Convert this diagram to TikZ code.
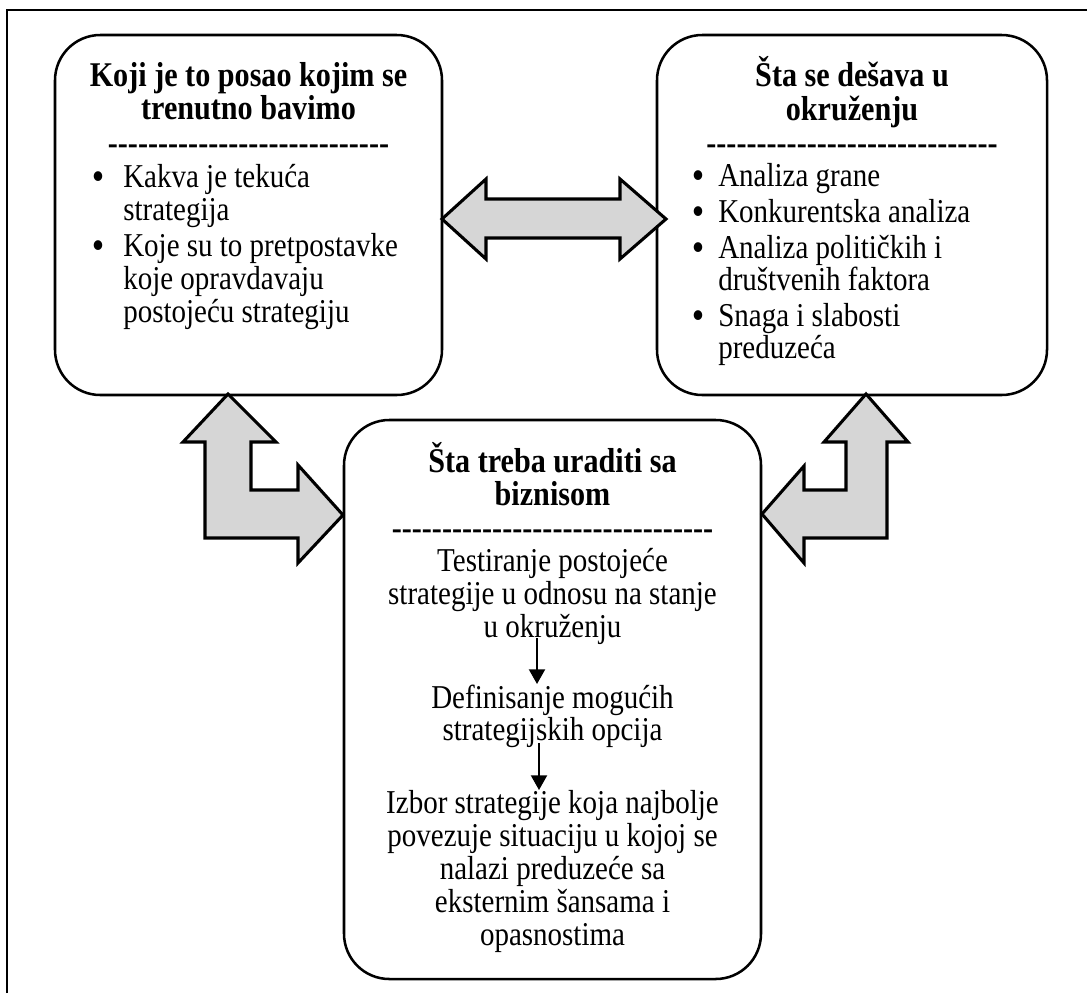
\documentclass[tikz,border=0pt]{standalone}
\usepackage{fontspec}
\setmainfont{Liberation Serif}[Ligatures=TeXOff, FakeStretch=0.87]
\usetikzlibrary{arrows.meta}
\begin{document}
\begin{tikzpicture}[x=0.75pt,y=-0.75pt,
  box/.style={draw, line width=1.9pt, rounded corners=34pt, inner sep=0pt, outer sep=0pt},
  ttl/.style={anchor=base, font=\fontsize{26}{28}\selectfont\bfseries, inner sep=0pt},
  txt/.style={anchor=base, font=\fontsize{25}{28}\selectfont, inner sep=0pt},
  itm/.style={anchor=base west, font=\fontsize{25}{28}\selectfont, inner sep=0pt},
  blt/.style={anchor=base, font=\fontsize{27}{28}\selectfont\bfseries, inner sep=0pt},
  blockarrow/.style={draw, line width=2.3pt, fill=black!16, line join=miter},
  flow/.style={line width=1.5pt, -{Triangle[length=11pt,width=12pt]}},
  frame/.style={line width=2pt},
]
\useasboundingbox (0,0) rectangle (1087,993);
% outer frame (open at right and bottom)
\coordinate (f1) at (7,993);
\coordinate (f2) at (7,10);
\coordinate (f3) at (1087,10);
\draw[frame] (f1) -- (f2) -- (f3);

% boxes
\node[box, minimum width=290.25pt, minimum height=270pt] (A) at (248.5,215) {};
\node[box, minimum width=292.5pt, minimum height=270pt] (B) at (852,215) {};
\node[box, minimum width=312.75pt, minimum height=419.25pt] (C) at (552.5,699.5) {};

% left box text
\node[ttl] (a1) at (248.5,86) {Koji je to posao kojim se};
\node[ttl] (a2) at (248.5,119) {trenutno bavimo};
\node[ttl] (ad) at (248.5,154) {----------------------------};
\node[blt] (ab1) at (98,188) {•};
\node[itm] (ai1) at (123,187) {Kakva je tekuća};
\node[itm] (ai2) at (123,220) {strategija};
\node[blt] (ab2) at (98,257) {•};
\node[itm] (ai3) at (123,256) {Koje su to pretpostavke};
\node[itm] (ai4) at (123,289) {koje opravdavaju};
\node[itm] (ai5) at (123,322) {postojeću strategiju};

% right box text
\node[ttl] (b1) at (852,86) {Šta se dešava u};
\node[ttl] (b2) at (852,120) {okruženju};
\node[ttl] (bd) at (852,154) {-----------------------------};
\node[blt] (bb1) at (698,187) {•};
\node[itm] (bi1) at (718,186) {Analiza grane};
\node[blt] (bb2) at (698,223) {•};
\node[itm] (bi2) at (718,222) {Konkurentska analiza};
\node[blt] (bb3) at (698,259) {•};
\node[itm] (bi3) at (718,258) {Analiza političkih i};
\node[itm] (bi4) at (718,290) {društvenih faktora};
\node[blt] (bb4) at (698,327) {•};
\node[itm] (bi5) at (718,326) {Snaga i slabosti};
\node[itm] (bi6) at (718,358) {preduzeća};

% center box text
\node[ttl] (c1) at (552.5,472) {Šta treba uraditi sa};
\node[ttl] (c2) at (552.5,505) {biznisom};
\node[ttl] (cd) at (552.5,539) {--------------------------------};
\node[txt] (c3) at (552.5,571) {Testiranje postojeće};
\node[txt] (c4) at (552.5,604) {strategije u odnosu na stanje};
\node[txt] (c5) at (552.5,637) {u okruženju};
\node[txt] (c6) at (552.5,708) {Definisanje mogućih};
\node[txt] (c7) at (552.5,740) {strategijskih opcija};
\node[txt] (c8) at (552.5,813) {Izbor strategije koja najbolje};
\node[txt] (c9) at (552.5,846) {povezuje situaciju u kojoj se};
\node[txt] (c10) at (552.5,879) {nalazi preduzeće sa};
\node[txt] (c11) at (552.5,912) {eksternim šansama i};
\node[txt] (c12) at (552.5,945) {opasnostima};

% small flow arrows
\coordinate (s1) at (537,638);
\coordinate (e1) at (537,684);
\coordinate (s2) at (539,743);
\coordinate (e2) at (539,790);
\draw[flow] (s1) -- (e1);
\draw[flow] (s2) -- (e2);

% block arrows
\draw[blockarrow] (442,219) -- (486,179) -- (486,199) -- (620,199) -- (620,179)
  -- (666,219) -- (620,259) -- (620,238) -- (486,238) -- (486,259) -- cycle;
\draw[blockarrow] (228,394) -- (276,442) -- (251,442) -- (251,490) -- (298,490)
  -- (298,465) -- (343,515) -- (298,563) -- (298,538) -- (205,538) -- (205,442)
  -- (183,442) -- cycle;
\draw[blockarrow] (866,394) -- (908,442) -- (887,442) -- (887,538) -- (804,538)
  -- (804,563) -- (762,514) -- (804,466) -- (804,490) -- (846,490) -- (846,442)
  -- (824,442) -- cycle;
\end{tikzpicture}
\end{document}
